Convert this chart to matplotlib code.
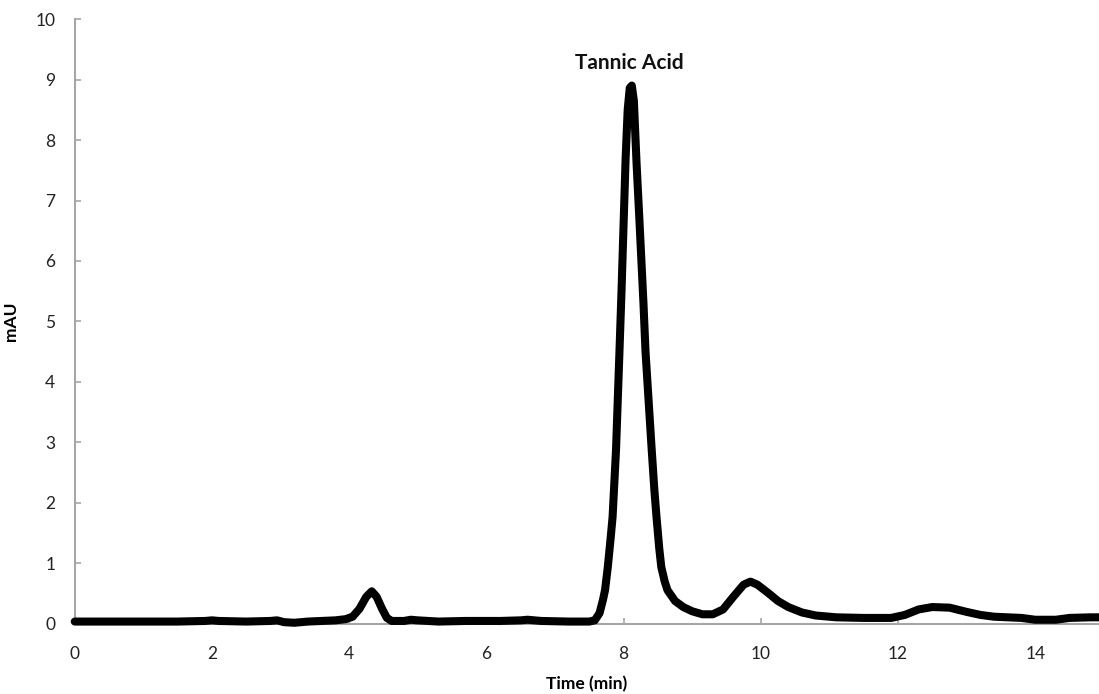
import matplotlib.pyplot as plt

# chromatogram trace (time in min, signal in mAU)
time_min = [0.0, 0.5, 1.0, 1.5, 1.9, 2.0, 2.1, 2.5, 2.85, 2.95, 3.05, 3.2, 3.4, 3.6,
            3.8, 3.95, 4.05, 4.15, 4.25, 4.33, 4.4, 4.48, 4.55, 4.62, 4.8, 4.9, 5.0,
            5.3, 5.7, 6.2, 6.5, 6.6, 6.8, 7.2, 7.5, 7.58, 7.65, 7.7, 7.73, 7.77,
            7.81, 7.84, 7.89, 7.94, 7.97, 8.0, 8.03, 8.06, 8.09, 8.12, 8.15, 8.19,
            8.23, 8.26, 8.29, 8.32, 8.37, 8.41, 8.45, 8.48, 8.52, 8.55, 8.6, 8.64,
            8.75, 8.87, 9.0, 9.15, 9.3, 9.45, 9.6, 9.75, 9.85, 9.95, 10.1, 10.25,
            10.4, 10.6, 10.8, 11.1, 11.5, 11.9, 12.1, 12.3, 12.5, 12.75, 13.0, 13.2,
            13.4, 13.8, 14.0, 14.3, 14.5, 14.8, 15.0]
signal_mau = [0.04, 0.04, 0.04, 0.04, 0.05, 0.06, 0.05, 0.04, 0.05, 0.06, 0.03, 0.02, 0.04, 0.05,
              0.06, 0.08, 0.12, 0.25, 0.45, 0.54, 0.45, 0.25, 0.1, 0.05, 0.05, 0.07, 0.06,
              0.04, 0.05, 0.05, 0.06, 0.07, 0.05, 0.04, 0.04, 0.06, 0.18, 0.4, 0.56, 0.94,
              1.4, 1.77, 2.88, 4.5, 5.5, 6.6, 7.7, 8.5, 8.86, 8.9, 8.65, 7.6,
              6.7, 6.0, 5.3, 4.5, 3.6, 2.88, 2.2, 1.77, 1.25, 0.94, 0.7, 0.56,
              0.38, 0.28, 0.21, 0.16, 0.16, 0.24, 0.45, 0.65, 0.70, 0.65, 0.52, 0.38,
              0.28, 0.19, 0.14, 0.11, 0.10, 0.10, 0.15, 0.24, 0.28, 0.27, 0.20, 0.15,
              0.12, 0.10, 0.07, 0.07, 0.10, 0.11, 0.11]

x_ticks = [0, 2, 4, 6, 8, 10, 12, 14]
y_ticks = list(range(0, 11))
peak_label = "Tannic Acid"
peak_pos = (8.09, 9.27)

plt.rcParams['font.family'] = ['Lato', 'DejaVu Sans']

fig = plt.figure(figsize=(10.99, 6.94), dpi=100)
ax = fig.add_axes([0.068, 0.1009, 0.932, 0.8717])

ax.plot(time_min, signal_mau, color='black', lw=5.8, solid_joinstyle='round',
        solid_capstyle='round', zorder=3, clip_on=False)

ax.set_xlim(0, 14.93)
ax.set_ylim(0, 10)
ax.set_xticks(x_ticks)
ax.set_yticks(y_ticks)

for s in ['top', 'right']:
    ax.spines[s].set_visible(False)
for s in ['left', 'bottom']:
    ax.spines[s].set_color('#a6a6a6')
    ax.spines[s].set_linewidth(1.5)

ax.tick_params(axis='both', direction='in', length=4, width=1.2, color='#a6a6a6',
               labelsize=12.5, labelcolor='#222222')
ax.tick_params(axis='y', pad=14)
ax.tick_params(axis='x', pad=16)

ax.set_xlabel("Time (min)", fontsize=12.5, fontweight='bold')
ax.xaxis.set_label_coords(0.5, -0.086)
ax.set_ylabel("mAU", fontsize=12.5, fontweight='bold')
ax.yaxis.set_label_coords(-0.054, 0.5)

ax.text(peak_pos[0], peak_pos[1], peak_label, ha='center', va='center',
        fontsize=15, fontweight='bold', color='#111111')

fig.savefig("out.png", dpi=100)
